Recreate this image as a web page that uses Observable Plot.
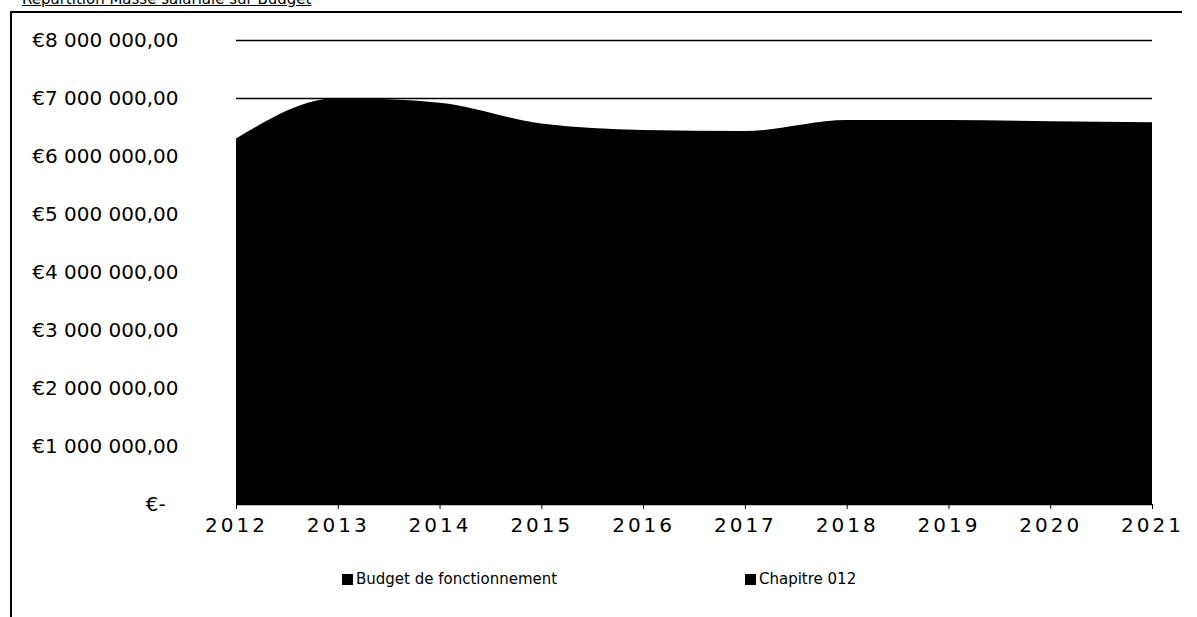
<!DOCTYPE html>
<html><head><meta charset="utf-8">
<script src="https://cdn.jsdelivr.net/npm/d3@7"></script>
<script src="https://cdn.jsdelivr.net/npm/@observablehq/plot@0.6"></script>
<style>
body{margin:0;background:#fff;font-family:"DejaVu Sans",Verdana,sans-serif;width:1197px;height:617px;overflow:hidden;position:relative}
#frame{position:absolute;left:10px;top:11px;width:1170px;height:640px;border-left:2px solid #000;border-top:2px solid #000}
#title{position:absolute;left:22px;top:-10px;font-size:15px;text-decoration:underline;white-space:nowrap}
#chart{position:absolute;left:0;top:0}
#chart g[aria-label="x-axis tick label"] text{letter-spacing:3px}
#legend{position:absolute;top:570px;left:0;width:1197px;font-size:15px;color:#000}
.item{position:absolute;display:flex;align-items:center;white-space:nowrap}
.sw{display:inline-block;width:11px;height:11px;background:#000;margin-right:3px}
</style></head>
<body>
<div id="title">Répartition Masse salariale sur Budget</div>
<div id="frame"></div>
<div id="chart"></div>
<div id="legend"></div>
<script>
const years = [2012, 2013, 2014, 2015, 2016, 2017, 2018, 2019, 2020, 2021];
const budgetFonctionnement = [6300000, 7000000, 6920000, 6560000, 6450000, 6430000, 6620000, 6620000, 6600000, 6580000];
const chapitre012 = [3300000, 3400000, 3450000, 3420000, 3380000, 3400000, 3500000, 3550000, 3600000, 3620000];
const seriesNames = ["Budget de fonctionnement", "Chapitre 012"];
const yTicks = [0, 1000000, 2000000, 3000000, 4000000, 5000000, 6000000, 7000000, 8000000];

const rows = years.map((y, i) => ({year: y, value: budgetFonctionnement[i], series: seriesNames[0]}));
const rows012 = years.map((y, i) => ({year: y, value: chapitre012[i], series: seriesNames[1]}));

const fmt = v => v === 0 ? "€-\u00a0\u00a0" :
  "€" + d3.format(",.2f")(v).replace(/,/g, " ").replace(".", ",");

const chart = Plot.plot({
  width: 1197,
  height: 545,
  marginLeft: 236,
  marginRight: 45,
  marginTop: 40,
  marginBottom: 41,
  style: {fontFamily: "DejaVu Sans, Verdana, sans-serif", fontSize: "20px", color: "#000", background: "transparent"},
  x: {type: "linear", domain: [2012, 2021], label: null},
  y: {domain: [0, 8000000], label: null},
  marks: [
    Plot.ruleY(yTicks, {stroke: "#000", strokeWidth: 1.5}),
    Plot.areaY(rows, {x: "year", y: "value", fill: "#000", curve: "monotone-x"}),
    Plot.areaY(rows012, {x: "year", y: "value", fill: "#000", curve: "monotone-x"}),
    Plot.axisX({ticks: years, tickFormat: d => String(d), tickSize: 5, tickPadding: 8, stroke: "#000", label: null}),
    Plot.axisY({ticks: yTicks, tickFormat: fmt, tickSize: 0, tickPadding: 58, label: null})
  ]
});
document.getElementById("chart").appendChild(chart);

const legend = document.getElementById("legend");
const legendX = [342, 745];
seriesNames.forEach((name, i) => {
  const it = document.createElement("div");
  it.className = "item";
  it.style.left = legendX[i] + "px";
  const sw = document.createElement("span");
  sw.className = "sw";
  it.appendChild(sw);
  it.appendChild(document.createTextNode(name));
  legend.appendChild(it);
});
</script>
</body></html>
